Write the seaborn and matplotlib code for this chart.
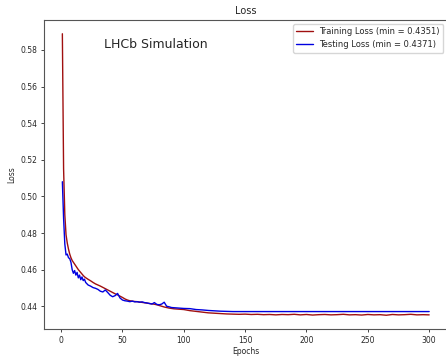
import matplotlib
matplotlib.use("Agg")
import matplotlib.pyplot as plt
import seaborn as sns
import pandas as pd

epochs = list(range(1, 21)) + list(range(22, 101, 2)) + list(range(105, 301, 5))

train_loss = [
    0.5888, 0.5150, 0.4900, 0.4790, 0.4745, 0.4712, 0.4685, 0.4665, 0.4650, 0.4640,
    0.4630, 0.4620, 0.4610, 0.4600, 0.4592, 0.4584, 0.4576, 0.4568, 0.4561, 0.4556,
    0.4547, 0.4539, 0.4530, 0.4522, 0.4516, 0.4510, 0.4503, 0.4496, 0.4489, 0.4482,
    0.4475, 0.4468, 0.4462, 0.4455, 0.4448, 0.4440, 0.4434, 0.4430, 0.4428, 0.4426,
    0.4425, 0.4423, 0.4421, 0.4419, 0.4417, 0.4415, 0.4413, 0.4411, 0.4408, 0.4404,
    0.4400, 0.4396, 0.4393, 0.4390, 0.4388, 0.4386, 0.4385, 0.4384, 0.4383, 0.4382,
    0.4376, 0.4372, 0.4368, 0.4364, 0.4362, 0.4360, 0.4358, 0.4357, 0.4356, 0.4357,
    0.4355, 0.4356, 0.4354, 0.4355, 0.4353, 0.4355, 0.4354, 0.4356, 0.4353, 0.4355,
    0.4352, 0.4354, 0.4355, 0.4353, 0.4354, 0.4356, 0.4353, 0.4354, 0.4352, 0.4355,
    0.4353, 0.4354, 0.4351, 0.4355, 0.4353, 0.4354, 0.4356, 0.4353, 0.4354, 0.4353,
]

test_loss = [
    0.5080, 0.4880, 0.4740, 0.4680, 0.4685, 0.4665, 0.4660, 0.4640, 0.4600, 0.4580,
    0.4595, 0.4570, 0.4585, 0.4555, 0.4570, 0.4545, 0.4560, 0.4540, 0.4548, 0.4530,
    0.4516, 0.4510, 0.4502, 0.4498, 0.4492, 0.4482, 0.4478, 0.4489, 0.4475, 0.4460,
    0.4452, 0.4458, 0.4470, 0.4445, 0.4434, 0.4430, 0.4428, 0.4425, 0.4428, 0.4424,
    0.4425, 0.4422, 0.4424, 0.4420, 0.4418, 0.4415, 0.4412, 0.4420, 0.4410, 0.4408,
    0.4412, 0.4422, 0.4400, 0.4397, 0.4393, 0.4392, 0.4391, 0.4390, 0.4389, 0.4388,
    0.4387, 0.4382, 0.4380, 0.4377, 0.4375, 0.4373, 0.4372, 0.4371, 0.4371, 0.4371,
    0.4371, 0.4371, 0.4371, 0.4371, 0.4371, 0.4371, 0.4371, 0.4371, 0.4371, 0.4371,
    0.4371, 0.4371, 0.4371, 0.4371, 0.4371, 0.4371, 0.4371, 0.4371, 0.4371, 0.4371,
    0.4371, 0.4371, 0.4371, 0.4371, 0.4371, 0.4371, 0.4371, 0.4371, 0.4371, 0.4371,
]

train_label = "Training Loss (min = 0.4351)"
test_label = "Testing Loss (min = 0.4371)"

sns.set_style("ticks")
plt.rcParams['font.family'] = ['DejaVu Sans']

df = pd.DataFrame({"Epochs": epochs, "train": train_loss, "test": test_loss})

fig = plt.figure(figsize=(4.46, 3.56), dpi=100)
ax = fig.add_axes([0.0987, 0.075, 1.0034 - 0.0987, 0.9447 - 0.075])

sns.lineplot(data=df, x="Epochs", y="train", ax=ax, color="#a01010", linewidth=1.0, label=train_label)
sns.lineplot(data=df, x="Epochs", y="test", ax=ax, color="#0000e0", linewidth=1.0, label=test_label)

ax.set_title("Loss", fontsize=7, pad=4)
ax.set_xlabel("Epochs", fontsize=5.5, labelpad=2)
ax.set_ylabel("Loss", fontsize=5.5, labelpad=3)
ax.set_yticks([0.44, 0.46, 0.48, 0.50, 0.52, 0.54, 0.56, 0.58])
ax.set_xticks([0, 50, 100, 150, 200, 250, 300])
ax.tick_params(labelsize=5.5, length=2.5, width=0.6, pad=2)
for s in ax.spines.values():
    s.set_linewidth(0.8)
    s.set_color("#555555")

ax.text(0.149, 0.921, "LHCb Simulation", transform=ax.transAxes, fontsize=9,
        ha="left", va="center")

ax.legend(loc="upper right", fontsize=6, frameon=True, handlelength=2.0)

fig.savefig("out.png", dpi=100)
